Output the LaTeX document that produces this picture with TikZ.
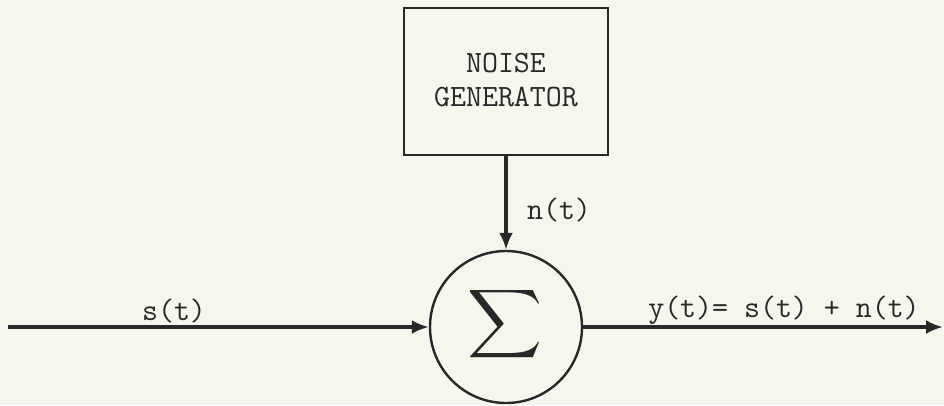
\documentclass[tikz,border=0pt]{standalone}
\usepackage{fontspec}
\usetikzlibrary{arrows.meta}
\definecolor{paper}{RGB}{246,246,239}
\definecolor{ink}{RGB}{40,40,40}
\begin{document}
\begin{tikzpicture}[x=1pt,y=-1pt,
  lbl/.style={font=\fontsize{31}{34}\selectfont\ttfamily, text=ink, inner sep=0pt},
  wire/.style={draw=ink, line width=3.4pt, -{Latex[length=17pt,width=14pt]}},
  genbox/.style={draw=ink, line width=2.6pt, minimum width=204pt, minimum height=147pt, inner sep=0pt},
  sumnode/.style={draw=ink, circle, line width=2.4pt, minimum size=152pt, inner sep=0pt}]
\fill[paper] (0,0) rectangle (944,405);
\useasboundingbox (0,0) rectangle (944,405);
\node[genbox] (gen) at (506,81.5) {};
\node[lbl, align=center] (gentxt) at (506,80) {NOISE\\GENERATOR};
\node[sumnode] (sum) at (506,327) {};
\node[text=ink, xscale=5.2, yscale=4.8, inner sep=0pt] (sig) at (505,324) {$\displaystyle\sum$};
\coordinate (in) at (8,327);
\coordinate (out) at (943,327);
\draw[wire] (in) -- (sum.west);
\draw[wire] (gen.south) -- (sum.north);
\draw[wire] (sum.east) -- (out);
\node[lbl] (st) at (174,311) {s(t)};
\node[lbl] (nt) at (559,210) {n(t)};
\node[lbl] (yt) at (784,310) {y(t)= s(t) + n(t)};
\end{tikzpicture}
\end{document}
